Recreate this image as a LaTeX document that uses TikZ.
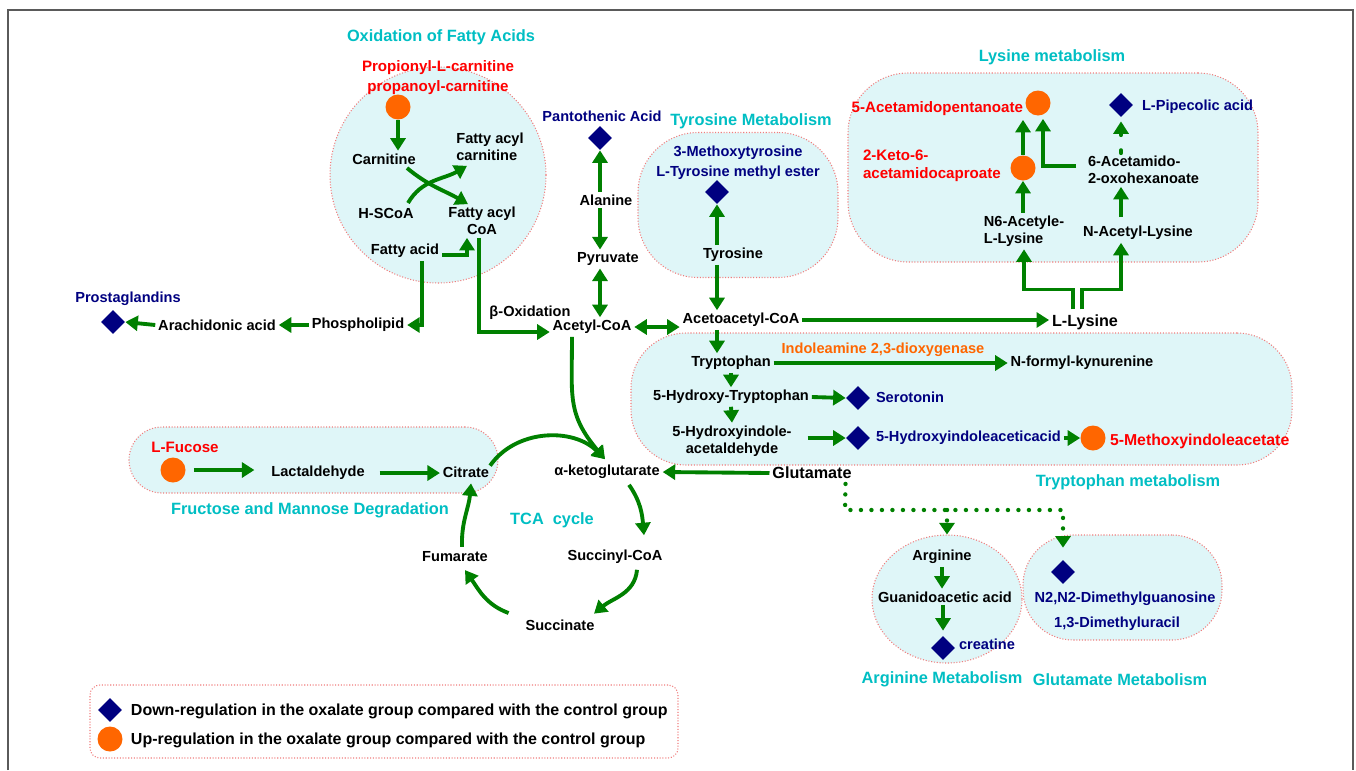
\documentclass[tikz,border=0pt]{standalone}
\usepackage{fontspec}
\setmainfont{Liberation Sans}
\usetikzlibrary{arrows.meta,shapes.geometric,calc}
\definecolor{pwgreen} {RGB}{0,128,0}
\definecolor{pwnavy}  {RGB}{0,0,128}
\definecolor{pworange}{RGB}{255,102,0}
\definecolor{pwred}   {RGB}{255,0,0}
\definecolor{pwcyan}  {RGB}{0,190,195}
\definecolor{pwfill}  {RGB}{223,246,248}
\definecolor{pwedge}  {RGB}{240,125,125}
\definecolor{pwframe} {RGB}{90,90,90}
\tikzset{
  arr/.style={-{Triangle[length=2.5mm,width=3mm]},line width=2.2pt,draw=pwgreen},
  darr/.style={{Triangle[length=2.5mm,width=3mm]}-{Triangle[length=2.5mm,width=3mm]},
               line width=2.2pt,draw=pwgreen},
  dotarr/.style={-{Triangle[length=2.3mm,width=3mm]},line width=2.5pt,draw=pwgreen,
                 line cap=round,dash pattern=on 0pt off 2.1mm},
  dasharr/.style={arr,line cap=round,dash pattern=on 0.6mm off 3mm},
  region/.style={draw=pwedge,densely dotted,line width=0.6pt,fill=pwfill,inner sep=0pt},
  downmark/.style={diamond,fill=pwnavy,inner sep=0pt,minimum width=4.8mm,minimum height=4.8mm},
  upmark/.style={circle,fill=pworange,inner sep=0pt,minimum size=5mm},
}
\begin{document}
\begin{tikzpicture}[x=0.2mm,y=-0.2mm,
    every node/.style={font=\bfseries\fontsize{8.3}{9.7}\selectfont,inner sep=1.5pt,align=center},
    grouptitle/.style={font=\bfseries\fontsize{9.3}{11}\selectfont,text=pwcyan},
    bigtext/.style={font=\bfseries\fontsize{9.2}{11}\selectfont},
    uptext/.style={text=pwred,font=\bfseries\fontsize{8.6}{10}\selectfont},
    downtext/.style={text=pwnavy},
    legtext/.style={font=\bfseries\fontsize{9.1}{11}\selectfont,anchor=west}
  ]
  \useasboundingbox (0,0) rectangle (1356,770);
  % frame
  \draw[pwframe,line width=0.3mm] (8,770) -- (8,10) -- (1353,10) -- (1353,770);

  % pathway regions
  \node[region,circle,minimum size=43.2mm] (fareg) at (438,175) {};
  \node[region,rounded corners=12mm,minimum width=40mm,minimum height=29mm] (tyrreg) at (738,205) {};
  \node[region,rounded corners=12mm,minimum width=82mm,minimum height=37.8mm] (lysreg) at (1053,167.5) {};
  \node[region,rounded corners=11mm,minimum width=132.2mm,minimum height=26.4mm] (trpreg) at (961.5,399) {};
  \node[region,rounded corners=6.6mm,minimum width=73.8mm,minimum height=13.2mm] (frureg) at (313.5,460) {};
  \node[region,ellipse,minimum width=30mm,minimum height=25.6mm] (argreg) at (947,599) {};
  \node[region,rounded corners=10mm,minimum width=39.8mm,minimum height=21mm] (glureg) at (1122.5,587.5) {};
  \node[region,fill=white,rounded corners=2mm,minimum width=117.6mm,minimum height=14.6mm] (legreg) at (384,721.5) {};

  % Oxidation of fatty acids
  \node[grouptitle] (t_fa) at (441,37) {Oxidation of Fatty Acids};
  \node[uptext,font=\bfseries\fontsize{8.6}{11.4}\selectfont] (propc) at (438,78) {Propionyl-L-carnitine\\propanoyl-carnitine};
  \node[upmark] (u_propc) at (398,107) {};
  \node (carn) at (384,159) {Carnitine};
  \node[align=left] (facarn) at (490,147) {Fatty acyl\\carnitine};
  \node (hscoa) at (386,213) {H-SCoA};
  \node (facoa) at (482,221) {Fatty acyl\\CoA};
  \node (fa) at (405,251) {Fatty acid};
  \node (phos) at (358,325) {Phospholipid};
  \node (arach) at (217,325) {Arachidonic acid};
  \node[downmark] (d_prost) at (113,322) {};
  \node[downtext] (prost) at (128,299) {Prostaglandins};
  \node (boxid) at (530,313) {β-Oxidation};

  % Alanine / pyruvate column
  \node[downtext] (pant) at (602,116) {Pantothenic Acid};
  \node[downmark] (d_pant) at (600,138) {};
  \node (ala) at (606,200) {Alanine};
  \node (pyr) at (608,259) {Pyruvate};
  \node (acoa) at (592,327) {Acetyl-CoA};

  % Tyrosine metabolism
  \node[grouptitle] (t_tyr) at (751,121) {Tyrosine Metabolism};
  \node[downtext,font=\bfseries\fontsize{8.3}{11.4}\selectfont] (mtyr) at (738,163) {3-Methoxytyrosine\\L-Tyrosine methyl ester};
  \node[downmark] (d_tyr) at (717,192) {};
  \node (tyr) at (733,255) {Tyrosine};
  \node (aacoa) at (741,320) {Acetoacetyl-CoA};

  % Lysine metabolism
  \node[grouptitle] (t_lys) at (1052,57) {Lysine metabolism};
  \node[upmark] (u_acp) at (1038,103) {};
  \node[uptext,anchor=east] (acp) at (1026,109) {5-Acetamidopentanoate};
  \node[downmark] (d_pip) at (1121,105) {};
  \node[downtext,anchor=west] (pip) at (1139,107) {L-Pipecolic acid};
  \node[upmark] (u_keto) at (1023,168) {};
  \node[uptext,align=left,anchor=west] (keto) at (860,166) {2-Keto-6-\\acetamidocaproate};
  \node[align=left,anchor=west] (acox) at (1085,170) {6-Acetamido-\\2-oxohexanoate};
  \node[align=left] (n6) at (1024,231) {N6-Acetyle-\\L-Lysine};
  \node (nacl) at (1138,233) {N-Acetyl-Lysine};
  \node[bigtext] (llys) at (1085,322) {L-Lysine};

  % Tryptophan metabolism
  \node[grouptitle] (t_trp) at (1128,482) {Tryptophan metabolism};
  \node (trp) at (731,363) {Tryptophan};
  \node[text=pworange] (ido) at (883,350) {Indoleamine 2,3-dioxygenase};
  \node (nfk) at (1082,363) {N-formyl-kynurenine};
  \node (htp) at (731,397) {5-Hydroxy-Tryptophan};
  \node[downmark] (d_ser) at (858,398) {};
  \node[downtext,anchor=west] (ser) at (873,397) {Serotonin};
  \node (hiald) at (732,441) {5-Hydroxyindole-\\acetaldehyde};
  \node[downmark] (d_hiaa) at (858,438) {};
  \node[downtext,anchor=west] (hiaa) at (873,438) {5-Hydroxyindoleaceticacid};
  \node[upmark] (u_mia) at (1093,438) {};
  \node[uptext,anchor=west,font=\bfseries\fontsize{9}{11}\selectfont] (mia) at (1107,441) {5-Methoxyindoleacetate};

  % Fructose and mannose degradation
  \node[grouptitle] (t_fru) at (310,510) {Fructose and Mannose Degradation};
  \node[uptext] (fuc) at (185,447) {L-Fucose};
  \node[upmark] (u_fuc) at (173,470) {};
  \node (lact) at (318,473) {Lactaldehyde};
  \node (cit) at (466,472) {Citrate};

  % TCA cycle
  \node[grouptitle] (t_tca) at (552,520) {TCA\ \ cycle};
  \node (aket) at (607,472) {α-ketoglutarate};
  \node (succoa) at (615,557) {Succinyl-CoA};
  \node (succ) at (560,625) {Succinate};
  \node (fum) at (455,557) {Fumarate};
  \node[bigtext] (glu) at (812,473) {Glutamate};

  % Arginine and glutamate metabolism
  \node[grouptitle] (t_arg) at (942,679) {Arginine Metabolism};
  \node[grouptitle] (t_glu) at (1120,680) {Glutamate Metabolism};
  \node (arg) at (942,557) {Arginine};
  \node (gaa) at (945,597) {Guanidoacetic acid};
  \node[downmark] (d_cre) at (943,648) {};
  \node[downtext,anchor=west] (cre) at (956,644) {creatine};
  \node[downmark] (d_dmg) at (1063,572) {};
  \node[downtext] (dmg) at (1125,599) {N2,N2-Dimethylguanosine};
  \node[downtext] (dmu) at (1117,624) {1,3-Dimethyluracil};
  \coordinate (jn) at (845,510);

  % Legend
  \node[downmark] (d_leg) at (110,710) {};
  \node[legtext] (leg1) at (128,711) {Down-regulation in the oxalate group compared with the control group};
  \node[upmark] (u_leg) at (110,739) {};
  \node[legtext] (leg2) at (128,740) {Up-regulation in the oxalate group compared with the control group};

  % fatty acid arrows
  \draw[arr] (u_propc.south) -- (u_propc.south |- carn.north);
  \draw[arr] ($(carn.center)+(23,9)$) to[out=-40,in=150] ($(facoa.north)+(-14,0)$);
  \draw[arr] ($(hscoa.center)+(22,-10)$) to[out=60,in=210] ($(facarn.south)+(-23,2)$);
  \draw[arr] ($(fa.east)+(0,4)$) -| ($(facoa.south)+(-15,0)$);
  \draw[arr] ($(fa.south)+(17,0)$) |- (phos.east);
  \draw[arr] ($(facoa.south)+(-3,0)$) |- ($(acoa.west)+(0,5)$);
  \draw[arr] (phos.west) -- (arach.east);
  \draw[arr] (arach.west) -- (d_prost.east);

  % alanine / tyrosine arrows
  \draw[arr] (ala.north -| d_pant) -- (d_pant.south);
  \draw[arr] (ala.south -| d_pant) -- (pyr.north -| d_pant);
  \draw[darr] (pyr.south -| d_pant) -- (acoa.north -| d_pant);
  \draw[darr] (acoa.east) -- (acoa.east -| aacoa.west);
  \draw[arr] (tyr.north -| d_tyr) -- (d_tyr.south);
  \draw[arr] (tyr.south -| d_tyr) -- (aacoa.north -| d_tyr);

  % lysine arrows
  \draw[arr] (aacoa.east) -- (aacoa.east -| llys.west);
  \draw[arr] ($(llys.north)+(-12,-2)$) -- ++(0,-20) -| (n6.south);
  \draw[arr] ($(llys.north)+(-3,-2)$) -- ++(0,-20) -| (nacl.south -| d_pip);
  \draw[arr,shorten <=1.2mm] (nacl.north -| d_pip) -- (acox.south -| d_pip);
  \draw[dasharr,shorten >=0.8mm] (acox.north -| d_pip) -- (d_pip.south);
  \draw[arr] (n6.north -| u_keto) -- (u_keto.south);
  \draw[arr,shorten >=0.8mm] (u_keto.north) -- (u_keto.north |- u_acp.south);
  \draw[arr,shorten <=1mm] ($(acox.west)+(-4,-4)$) -| ($(u_acp.south)+(5,3)$);

  % tryptophan arrows
  \draw[arr] (aacoa.south -| d_tyr) -- (trp.north -| d_tyr);
  \draw[arr] (trp.east) -- (nfk.west);
  \draw[arr] (trp.south) -- (htp.north);
  \draw[arr] (htp.east) -- (d_ser.west);
  \draw[arr] (htp.south) -- (hiald.north);
  \draw[arr,shorten <=2.6mm] (hiald.east |- d_hiaa) -- (d_hiaa.west);
  \draw[arr] (hiaa.east) -- (u_mia.west);

  % fucose and TCA arrows
  \draw[arr,shorten <=1.6mm,shorten >=2.8mm] (u_fuc.east) -- (u_fuc.east -| lact.west);
  \draw[arr,shorten <=2.4mm] (lact.east) -- (lact.east -| cit.west);
  \draw[arr] ($(acoa.south)+(-20,0)$) to[out=-90,in=130,looseness=1.2] ($(aket.north)+(-2,-3)$);
  \draw[arr] ($(cit.north east)+(-2,2)$) to[out=55,in=135] ($(aket.north)+(-2,-3)$);
  \draw[arr] ($(aket.south)+(22,3)$) to[out=-55,in=95] ($(succoa.north)+(29,-12)$);
  \draw[arr] ($(succoa.south)+(22,3)$) to[out=-95,in=40] ($(succ.north)+(34,-3)$);
  \draw[arr] ($(succ.west)+(-14,-12)$) to[out=160,in=-55] ($(fum.south)+(10,5)$);
  \draw[arr] ($(fum.north)+(7,-2)$) to[out=92,in=-95] ($(cit.south)+(5,3)$);
  \draw[arr] (glu.west) -- (aket.east);

  % glutamate branches
  \draw[dotarr,shorten >=2.4mm] ($(glu.south east)+(-9,2)$) -- (jn) -| (d_dmg.north);
  \draw[dotarr] (jn -| argreg.north) -- (argreg.north);
  \draw[arr] (arg.south) -- (arg.south |- gaa.north);
  \draw[arr,shorten >=1mm] (gaa.south -| d_cre) -- (d_cre.north);
\end{tikzpicture}
\end{document}
